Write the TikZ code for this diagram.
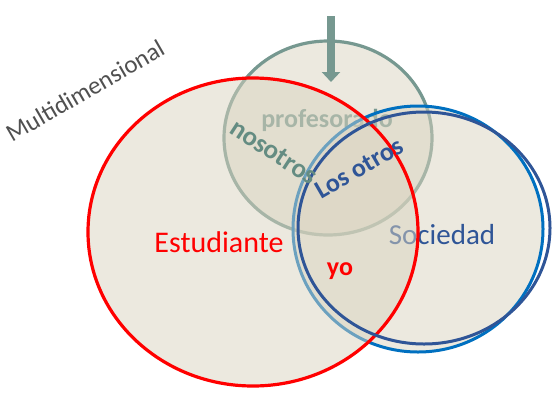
\documentclass[tikz,border=0pt]{standalone}
\usepackage{fontspec}
\setmainfont{Carlito}
\usepackage{xcolor}
\usetikzlibrary{arrows.meta, shapes.geometric}

\definecolor{rojo}{RGB}{255,0,0}
\definecolor{verdegris}{RGB}{118,152,144}
\definecolor{verdetexto}{RGB}{100,140,130}
\definecolor{azul}{RGB}{0,112,192}
\definecolor{azuloscuro}{RGB}{47,85,151}
\definecolor{relleno}{RGB}{217,211,191}
\definecolor{grisoscuro}{RGB}{80,80,80}

\tikzset{
    conjunto/.style={ellipse, inner sep=0pt, line width=3.2pt, fill=relleno, fill opacity=0.5},
    rotulo/.style={inner sep=0pt, font=\fontsize{#1}{#1}\selectfont},
    negrita/.style={inner sep=0pt, font=\fontsize{#1}{#1}\selectfont\bfseries},
    flecha/.style={verdegris, line width=8pt, -{Triangle[width=18pt, length=10pt]}}
}

\begin{document}
\begin{tikzpicture}[x=1pt, y=-1pt]
        \useasboundingbox (0,0) rectangle (554,400);

        % profesor circle (lowest layer)
        \node[conjunto, draw=verdegris, minimum width=208pt, minimum height=194pt] (profesor) at (328,138) {};
        \node[negrita=26, text=verdegris, anchor=base] (tprof) at (327,127) {profesorado};

        % sociedad, outer blue ring
        \node[conjunto, draw=azul, line width=3pt, minimum width=250pt, minimum height=246pt] (sociedad) at (418,229) {};
        \node[rotulo=29, text=azuloscuro, anchor=base] (tsoc) at (442,244) {Sociedad};

        % estudiante
        \node[conjunto, draw=rojo, minimum width=330pt, minimum height=308pt] (estudiante) at (253,232) {};

        % los otros, dark blue ring on top
        \node[ellipse, inner sep=0pt, draw=azuloscuro, line width=3pt, minimum width=252pt, minimum height=232pt] (otros) at (424,228) {};

        % labels
        \node[rotulo=30, text=rojo, anchor=base] (testud) at (219,252) {Estudiante};
        \node[negrita=26, text=rojo, anchor=base] (tyo) at (340,275) {yo};
        \node[negrita=27, text=verdetexto, rotate=-33] (tnos) at (274,152) {nosotros};
        \node[negrita=26, text=azuloscuro, rotate=30] (totros) at (359,168) {Los otros};
        \node[rotulo=25, text=grisoscuro, rotate=30, anchor=base west] (tmulti) at (12,143) {Multidimensional};

        % arrow into profesor
        \coordinate (arriba) at (331,16);
        \coordinate (punta) at (331,82);
        \draw[flecha] (arriba) -- (punta);
\end{tikzpicture}
\end{document}
